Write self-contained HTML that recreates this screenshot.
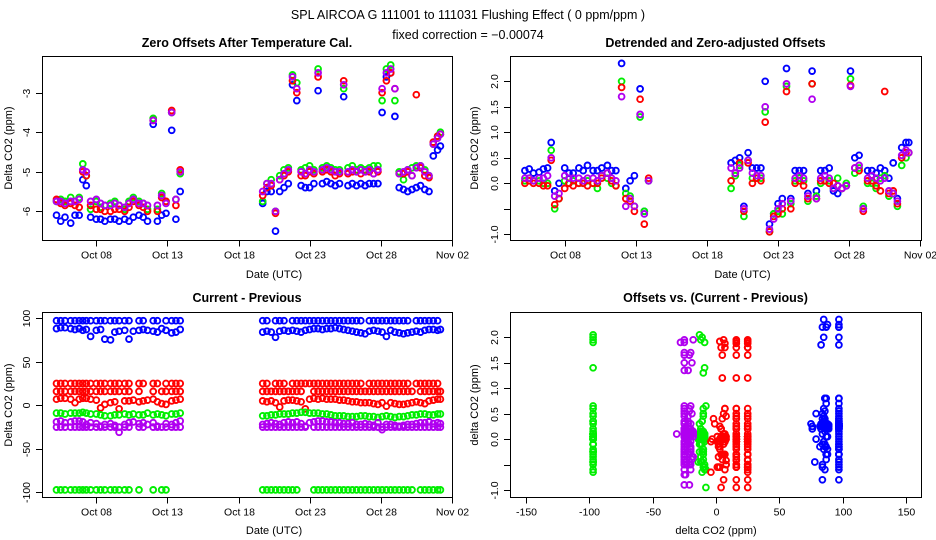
<!DOCTYPE html>
<html><head><meta charset="utf-8">
<style>
html,body{margin:0;padding:0;background:#fff;}
svg{display:block;font-family:"Liberation Sans",sans-serif;}
</style></head>
<body>
<svg id="chart" width="936" height="540" viewBox="0 0 936 540" xmlns="http://www.w3.org/2000/svg">
<text x="468" y="19" font-size="12.5" text-anchor="middle">SPL   AIRCOA G   111001 to 111031   Flushing Effect ( 0 ppm/ppm )</text>
<text x="468" y="39" font-size="12.5" text-anchor="middle">fixed correction = −0.00074</text>
<g id="layer"></g>
</svg>
<script>
const _ = null;
const timesA = [5.2,5.5,5.8,6.2,6.5,6.8,7.05,7.3,7.6,8.0,8.3,8.6,9.0,9.3,9.6,10.0,10.3,10.6,11.0,11.3,11.6,12.0,12.3,12.6,12.9,13.3,13.6,13.9];
const timesB = [19.7,20.0,20.3,20.6,20.9,21.2,21.5,21.8,22.1,22.4,22.7,23.0,23.3,23.6,23.9,24.2,24.5,24.8,25.1,25.4,25.7,26.0,26.3,26.6,26.9,27.2,27.5,27.8,28.1,28.4,28.7,29.0,29.3,29.6,29.9,30.2,30.5,30.8,31.1,31.4,31.7,32.0,32.2];
const dateTicks = [8,13,18,23,28,33];
const dateTickLabels = ["Oct 08","Oct 13","Oct 18","Oct 23","Oct 28","Nov 02"];

// Panel 1: zero offsets after temperature cal.
const zeroBlue = [-6.1,-6.25,-6.15,-6.3,-6.1,-6.1,-5.2,-5.35,-6.15,-6.2,-6.2,-6.25,-6.2,-6.2,-6.25,-6.2,-6.25,-6.15,-6.1,-6.15,-6.25,-3.8,-6.25,-6.1,-6.05,-3.95,-6.2,-5.5,
 -5.8,-5.5,-5.5,-6.5,-5.5,-5.4,-5.3,-2.8,-3.2,-5.35,-5.4,-5.4,-5.3,-2.95,-5.3,-5.25,-5.3,-5.35,-5.3,-3.1,-5.35,-5.3,-5.35,-5.3,-5.35,-5.3,-5.3,-5.3,-3.5,-2.6,-2.5,-3.6,-5.4,-5.45,-5.5,-5.45,-5.4,-5.35,-5.45,-5.5,-4.6,-4.45,-4.35];
const zeroGreen = [-5.75,-5.7,-5.75,-5.65,-5.75,-5.65,-4.8,-5.1,-5.95,-5.75,-5.9,-5.85,-5.8,-5.75,-5.85,-5.95,-5.75,-5.65,-5.75,-5.8,-5.95,-3.65,-5.95,-5.55,-5.75,-3.5,-5.7,-5.05,
 -5.75,-5.3,-5.2,-6.0,-5.1,-4.95,-4.9,-2.55,-2.75,-4.95,-4.9,-4.85,-4.95,-2.4,-4.9,-4.85,-4.9,-4.95,-4.95,-2.9,-4.9,-4.85,-4.95,-4.9,-4.95,-4.9,-4.85,-4.85,-3.2,-2.4,-2.3,-3.2,-5.0,-5.2,-4.95,-4.9,-4.85,-4.85,-4.95,-5.1,-4.3,-4.1,-4.0];
const zeroRed = [-5.7,-5.8,-5.85,-5.8,-5.85,-5.9,-5.0,-5.1,-5.85,-5.95,-5.95,-6.0,-6.0,-5.95,-5.95,-6.0,-5.9,-5.75,-5.85,-5.9,-6.0,-3.7,-6.0,-5.65,-5.75,-3.45,-5.85,-4.95,
 -5.6,-5.4,-5.35,-6.05,-5.2,-5.1,-5.0,-2.7,-3.0,-5.1,-5.1,-5.0,-5.05,-2.6,-5.0,-4.95,-5.0,-5.1,-5.05,-2.7,-5.05,-5.0,-5.0,-5.05,-5.0,-5.0,-5.05,-5.0,-3.0,-2.7,-2.5,-2.9,-5.05,-5.05,-5.0,-5.1,-3.05,-4.9,-5.1,-5.15,-4.25,-4.1,-4.05];
const zeroPurple = [-5.75,-5.75,-5.8,-5.75,-5.75,-5.7,-4.95,-5.0,-5.75,-5.7,-5.8,-5.85,-5.85,-5.8,-5.85,-5.9,-5.8,-5.7,-5.8,-5.8,-5.85,-3.7,-5.85,-5.6,-5.8,-3.5,-5.7,-5.0,
 -5.5,-5.3,-5.3,-6.0,-5.2,-5.05,-4.95,-2.6,-2.9,-5.0,-5.05,-4.95,-5.0,-2.5,-4.95,-4.9,-4.95,-5.0,-5.0,-2.8,-5.0,-4.95,-5.0,-4.95,-5.0,-4.95,-5.05,-4.95,-2.9,-2.5,-2.4,-2.9,-5.05,-5.0,-4.95,-5.1,-4.9,-4.85,-5.0,-5.1,-4.3,-4.15,-4.05];

// Panel 2: detrended & zero-adjusted
const detBlue = [0.25,0.28,0.2,0.22,0.28,0.3,0.8,-0.15,0.0,0.3,0.2,0.2,0.3,0.25,0.35,0.25,0.25,0.3,0.35,0.25,0.25,2.35,-0.1,0.05,0.15,1.85,-0.55,0.05,
 0.4,0.45,0.5,-0.45,0.6,0.3,0.3,0.3,2.0,-0.8,-0.6,-0.4,-0.3,2.25,-0.3,0.25,0.25,0.25,-0.2,2.2,-0.15,0.25,0.25,0.3,-0.15,-0.2,-0.1,-0.05,2.2,0.5,0.55,-0.5,0.25,0.25,0.2,0.3,0.25,0.1,0.4,-0.3,0.7,0.8,0.8];
const detGreen = [0.05,0.1,0.05,0.05,0.0,0.0,0.65,-0.5,-0.3,0.05,0.0,0.05,0.0,0.0,0.05,0.0,-0.1,0.15,0.1,0.0,-0.05,2.0,-0.2,-0.25,-0.45,1.3,-0.55,0.05,
 -0.1,0.15,0.35,-0.65,0.45,0.1,0.1,0.1,1.4,-0.95,-0.6,-0.55,-0.6,1.9,-0.4,0.05,0.1,0.05,-0.35,1.95,-0.25,0.0,0.05,0.05,-0.1,0.1,-0.1,0.0,2.05,0.2,0.3,-0.45,0.0,0.0,-0.1,0.1,0.15,-0.25,-0.2,-0.45,0.35,0.5,0.6];
const detRed = [0.0,0.05,0.0,0.0,-0.05,-0.05,0.45,-0.42,-0.3,-0.1,0.0,-0.05,0.0,0.0,-0.05,0.0,0.0,0.1,0.2,0.05,-0.05,1.88,-0.3,-0.35,-0.55,1.65,-0.8,0.1,
 0.05,0.2,0.4,-0.55,0.4,0.0,0.1,0.05,1.2,-0.95,-0.65,-0.6,-0.5,1.8,-0.5,0.0,0.05,-0.05,-0.3,1.95,-0.3,0.05,0.05,0.0,0.0,-0.05,-0.1,-0.05,1.92,0.3,0.25,-0.55,0.05,0.05,-0.05,-0.15,1.8,-0.2,-0.15,-0.4,0.5,0.6,0.6];
const detPurple = [0.1,0.1,0.05,0.1,0.1,0.15,0.5,-0.25,-0.2,0.15,0.1,0.1,0.1,0.05,0.1,0.1,0.05,0.15,0.2,0.1,0.05,1.7,-0.45,-0.3,-0.45,1.35,-0.6,0.05,
 0.3,0.2,0.3,-0.5,0.45,0.2,0.15,0.15,1.5,-0.9,-0.7,-0.5,-0.4,1.95,-0.35,0.1,0.15,0.1,-0.25,1.65,-0.3,0.1,0.15,0.1,-0.1,-0.05,-0.1,-0.05,1.9,0.3,0.35,-0.5,0.1,0.15,0.1,0.05,0.1,-0.15,-0.2,-0.35,0.55,0.65,0.6];

// Panel 3: current - previous (main rows)
const cpBlue = [88,89,89,88,87,88,86,87,79,86,87,76,75,84,85,86,76,85,86,87,86,85,84,88,86,83,84,87,
 84,85,84,78,85,86,85,86,85,84,86,87,88,88,87,88,88,89,88,87,86,85,84,83,82,85,86,85,84,79,86,84,83,82,83,84,85,84,86,87,87,86,87];
const cpRed = [7,8,8,7,3,7,8,8,7,6,-3,1,3,4,-4,5,5,6,4,5,6,7,4,2,1,5,6,7,
 5,4,5,3,-2,5,6,6,5,4,-4,7,8,7,8,7,7,7,6,6,5,4,4,3,3,3,2,1,3,-1,3,2,1,1,2,3,4,3,2,5,6,7,7];
const cpGreen = [-9,-9,-10,-9,-9,-9,-8,-9,-10,-10,-11,-12,-12,-11,-11,-10,-11,-10,-11,-11,-9,-11,-10,-11,-12,-10,-10,-9,
 -12,-12,-11,-11,-10,-10,-10,-9,-9,-8,-8,-9,-9,-9,-10,-10,-11,-12,-12,-12,-13,-13,-13,-12,-12,-13,-13,-14,-13,-12,-13,-14,-13,-13,-12,-11,-11,-10,-10,-11,-11,-10,-10];
const cpPurple = [-19,-18,-20,-19,-18,-18,-19,-22,-20,-21,-24,-22,-21,-23,-31,-22,-20,-19,-21,-20,-22,-20,-24,-25,-21,-22,-20,-18,
 -22,-21,-20,-21,-22,-20,-19,-20,-19,-21,-24,-20,-19,-18,-18,-19,-19,-20,-20,-21,-21,-20,-22,-22,-21,-22,-23,-20,-28,-22,-22,-23,-24,-23,-22,-22,-21,-20,-20,-19,-21,-20,-21];
// Panel 3: secondary rows
const cpBlueHigh = [97,97,97,97,97,97,97,97,97,97,97,97,97,97,97,97,97,_,97,97,_,97,97,_,97,97,97,97,
 97,97,_,97,97,97,_,97,97,97,97,97,97,97,97,97,97,97,97,97,97,97,97,97,_,97,97,97,97,97,97,97,97,97,97,_,97,97,97,97,97,97,_];
const cpRedMid = [16,16,16,16,16,16,16,16,16,16,16,16,16,16,16,16,16,_,16,_,_,16,_,16,16,16,16,16,
 16,16,16,16,16,16,16,16,16,16,_,_,16,16,16,16,16,16,16,16,16,16,16,16,16,16,16,16,16,16,16,16,16,16,16,16,_,16,16,16,16,16,16];
const cpRedHigh = [25,25,25,25,25,25,25,25,25,25,25,25,25,25,25,25,25,_,25,25,_,25,25,_,25,25,25,25,
 25,25,_,25,25,25,_,25,25,25,25,25,25,25,25,25,25,25,25,25,25,25,25,25,_,25,25,25,25,25,25,25,25,25,25,_,25,25,25,25,25,25,_];
const cpGreenLow = [-97,-97,-97,-97,-97,-97,-97,-97,-97,-97,-97,-97,-97,-97,-97,-97,-97,_,-97,_,_,-97,_,-97,-97,_,_,_,
 -97,-97,-97,-97,-97,-97,-97,-97,-97,_,_,_,-97,-97,-97,-97,-97,-97,-97,-97,-97,-97,-97,-97,-97,-97,-97,-97,-97,-97,-97,-97,-97,-97,-97,-97,_,-97,-97,-97,-97,-97,-97];
const cpPurpleLow = [-25,-25,-25,-25,-25,-25,-25,-25,-25,-25,-25,-25,-25,-25,-25,-25,-25,_,-25,-25,_,-25,-25,_,-25,-25,-25,-25,
 -25,-25,-25,-25,-25,-25,-25,-25,-25,-25,-25,_,-25,-25,-25,-25,-25,-25,-25,-25,-25,-25,-25,-25,-25,-25,-25,-25,-25,-25,-25,-25,-25,-25,-25,-25,-25,-25,-25,-25,-25,-25,-25];

const times = timesA.concat(timesB);
const COL = {blue:"#0000ff", green:"#00ee00", red:"#ff0000", purple:"#b000f0"};

const NS = "http://www.w3.org/2000/svg";
const layer = document.getElementById("layer");
function mk(tag, attrs, parent){
  const e = document.createElementNS(NS, tag);
  for (const k in attrs) e.setAttribute(k, attrs[k]);
  (parent||layer).appendChild(e);
  return e;
}

const xDate1 = d => 96.3 + (d-8)*14.22;
const xDate2 = d => 564.7 + (d-8)*14.22;
const y1 = v => 92.7 + (-3 - v)*39.53;
const y2 = v => 81.3 + (2 - v)*51;
const y3 = v => 405.3 - v*0.8717;
const x4 = v => 716 + v*1.2667;
const y4 = v => 337.3 + (2 - v)*50.9;

function panelFrame(name, x0, y0, x1, y1b, title, titleY){
  const g = mk("g", {});
  
  
  const r = mk("rect", {x:x0+0.5, y:y0+0.5, width:x1-x0, height:y1b-y0, fill:"none", stroke:"#000", "stroke-width":1}, g);
  
  
  const t = mk("text", {x:(x0+x1)/2, y:titleY, "font-size":12.5, "font-weight":"bold", "text-anchor":"middle"}, g);
  t.textContent = title;
  
  
  return g;
}
function xAxis(g, ticks, labels, fx, yb, title, titleY){
  ticks.forEach((tv,i)=>{
    const px = Math.round(fx(tv))+0.5;
    const l = mk("line", {x1:px, x2:px, y1:yb, y2:yb+6, stroke:"#000"}, g);
    
    
    const t = mk("text", {x:px, y:yb+18, "font-size":10.5, "text-anchor":"middle"}, g);
    t.textContent = labels[i];
    
    
  });
  const at = mk("text", {x:fx((ticks[0]+ticks[ticks.length-1])/2), y:titleY, "font-size":11, "text-anchor":"middle"}, g);
  at.textContent = title;
  
  
}
function yAxis(g, ticks, labels, fy, xl, title, titleX, titleYc){
  ticks.forEach((tv,i)=>{
    const py = Math.round(fy(tv))+0.5;
    const l = mk("line", {x1:xl-6, x2:xl, y1:py, y2:py, stroke:"#000"}, g);
    
    
    if (labels[i] !== "") {
      const t = mk("text", {x:xl-12, y:py, "font-size":10.5, "text-anchor":"middle", transform:`rotate(-90 ${xl-12} ${py})`}, g);
      t.textContent = labels[i];
      
      
    }
  });
  const at = mk("text", {x:titleX, y:titleYc, "font-size":11, "text-anchor":"middle", transform:`rotate(-90 ${titleX} ${titleYc})`}, g);
  at.textContent = title;
  
  
}
function points(g, xs, ys, fx, fy, color, name){
  const sg = mk("g", {fill:"none", stroke:color, "stroke-width":1.9}, g);
  
  
  for (let i=0;i<xs.length;i++){
    if (xs[i]===null || ys[i]===null) continue;
    const c = mk("circle", {cx:fx(xs[i]).toFixed(1), cy:fy(ys[i]).toFixed(1), r:2.9}, sg);
    
    
  }
}

const g1 = panelFrame("panel-zero-offsets", 42, 56, 452, 240, "Zero Offsets After Temperature Cal.", 47);
xAxis(g1, dateTicks, dateTickLabels, xDate1, 240.5, "Date (UTC)", 278);
yAxis(g1, [-3,-4,-5,-6], ["-3","-4","-5","-6"], y1, 42, "Delta CO2 (ppm)", 12, 148);
points(g1, times, zeroBlue, xDate1, y1, COL.blue, "series-blue");
points(g1, times, zeroGreen, xDate1, y1, COL.green, "series-green");
points(g1, times, zeroRed, xDate1, y1, COL.red, "series-red");
points(g1, times, zeroPurple, xDate1, y1, COL.purple, "series-purple");

const g2 = panelFrame("panel-detrended-offsets", 510, 56, 921, 240, "Detrended and Zero-adjusted Offsets", 47);
xAxis(g2, dateTicks, dateTickLabels, xDate2, 240.5, "Date (UTC)", 278);
yAxis(g2, [2,1.5,1,0.5,0,-0.5,-1], ["2.0","1.5","1.0","0.5","0.0","","-1.0"], y2, 510, "Delta CO2 (ppm)", 478, 148);
points(g2, times, detBlue, xDate2, y2, COL.blue, "series-blue");
points(g2, times, detGreen, xDate2, y2, COL.green, "series-green");
points(g2, times, detRed, xDate2, y2, COL.red, "series-red");
points(g2, times, detPurple, xDate2, y2, COL.purple, "series-purple");

const g3 = panelFrame("panel-current-minus-previous", 42, 312, 452, 497, "Current - Previous", 302);
xAxis(g3, dateTicks, dateTickLabels, xDate1, 497.5, "Date (UTC)", 534);
yAxis(g3, [100,50,0,-50,-100], ["100","50","0","-50","-100"], y3, 42, "Delta CO2 (ppm)", 12, 405);
points(g3, times, cpBlueHigh, xDate1, y3, COL.blue, "series-blue-high-row");
points(g3, times, cpBlue, xDate1, y3, COL.blue, "series-blue");
points(g3, times, cpRedHigh, xDate1, y3, COL.red, "series-red-high-row");
points(g3, times, cpRedMid, xDate1, y3, COL.red, "series-red-mid-row");
points(g3, times, cpRed, xDate1, y3, COL.red, "series-red");
points(g3, times, cpGreen, xDate1, y3, COL.green, "series-green");
points(g3, times, cpGreenLow, xDate1, y3, COL.green, "series-green-low-row");
points(g3, times, cpPurpleLow, xDate1, y3, COL.purple, "series-purple-low-row");
points(g3, times, cpPurple, xDate1, y3, COL.purple, "series-purple");

const g4 = panelFrame("panel-offsets-vs-difference", 510, 312, 921, 497, "Offsets vs. (Current - Previous)", 302);
xAxis(g4, [-150,-100,-50,0,50,100,150], ["-150","-100","-50","0","50","100","150"], x4, 497.5, "delta CO2 (ppm)", 534);
yAxis(g4, [2,1.5,1,0.5,0,-0.5,-1], ["2.0","1.5","1.0","0.5","0.0","","-1.0"], y4, 510, "delta CO2 (ppm)", 478, 405);
points(g4, cpBlue, detBlue, x4, y4, COL.blue, "series-blue");
points(g4, cpBlueHigh, detBlue, x4, y4, COL.blue, "series-blue-high-row");
points(g4, cpGreen, detGreen, x4, y4, COL.green, "series-green");
points(g4, cpGreenLow, detGreen, x4, y4, COL.green, "series-green-low-row");
points(g4, cpRed, detRed, x4, y4, COL.red, "series-red");
points(g4, cpRedMid, detRed, x4, y4, COL.red, "series-red-mid-row");
points(g4, cpRedHigh, detRed, x4, y4, COL.red, "series-red-high-row");
points(g4, cpPurple, detPurple, x4, y4, COL.purple, "series-purple");
points(g4, cpPurpleLow, detPurple, x4, y4, COL.purple, "series-purple-low-row");
</script>
</body></html>
